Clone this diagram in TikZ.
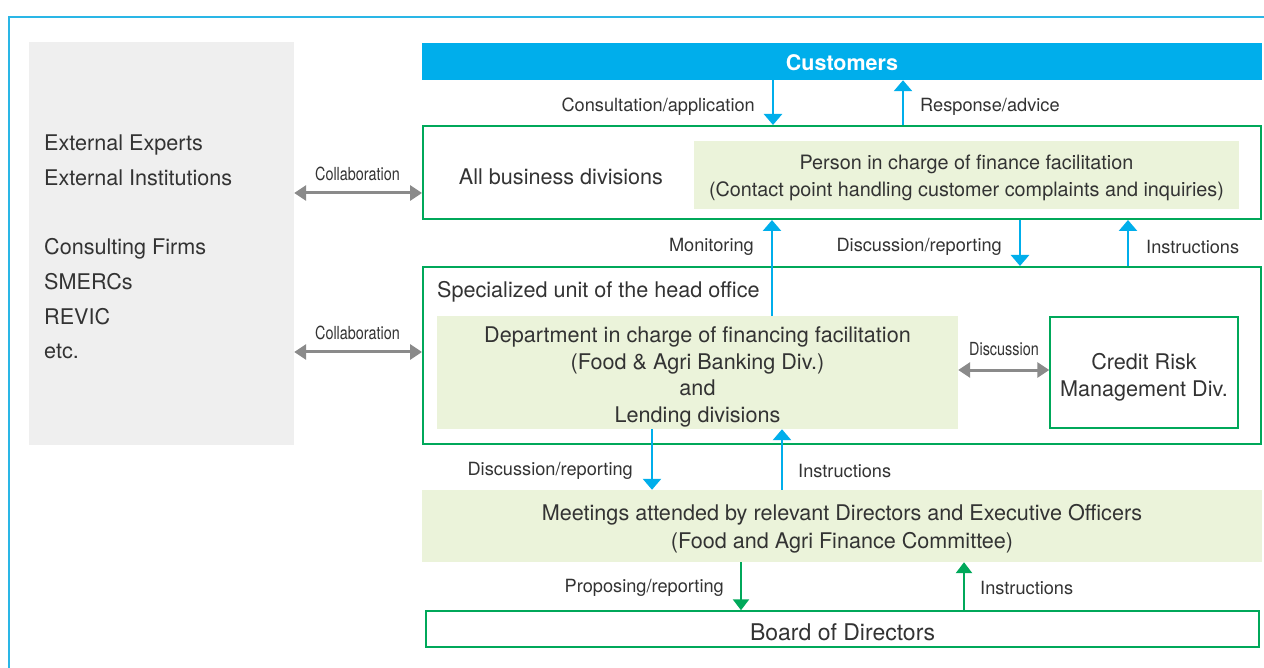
\documentclass[tikz,border=0pt]{standalone}
\usepackage{fontspec}
\setmainfont{TeX Gyre Heros}
\newfontfamily\narrowf[FakeStretch=0.8]{TeX Gyre Heros}
\usetikzlibrary{arrows.meta}
\definecolor{cyanc}{HTML}{00AEEB}
\definecolor{framec}{HTML}{2AB6E6}
\definecolor{grnc}{HTML}{00A85A}
\definecolor{lgrn}{HTML}{EBF3DA}
\definecolor{grayb}{HTML}{EFEFEF}
\definecolor{garr}{HTML}{8A8A8A}
\definecolor{txtc}{HTML}{333333}
\tikzset{
  txt/.style={text=txtc, font=\fontsize{21.6}{26.7}\selectfont, inner sep=0pt, align=center},
  lbl/.style={text=txtc, font=\fontsize{18.2}{20}\selectfont, inner sep=0pt},
  nlbl/.style={text=txtc, font=\narrowf\fontsize{18}{20}\selectfont, inner sep=0pt},
  gbox/.style={draw=grnc, line width=2pt, fill=white, inner sep=0pt},
  fbox/.style={fill=lgrn, draw=none, inner sep=0pt},
  carrow/.style={draw=cyanc, line width=2.6pt, -{Triangle[width=18pt,length=11pt]}},
  grarrow/.style={draw=grnc, line width=2.6pt, -{Triangle[width=16pt,length=11pt]}},
  garrow/.style={draw=garr, line width=3pt, {Triangle[width=15pt,length=12pt]}-{Triangle[width=15pt,length=12pt]}},
}
\begin{document}
\begin{tikzpicture}[x=1pt,y=-1pt]
\useasboundingbox (0,0) rectangle (1264,668);
% frame
\draw[framec, line width=2pt] (9,670) |- (1266,17);
% gray box
\node[fill=grayb, minimum width=265pt, minimum height=403pt, inner sep=0pt] (ext) at (161.5,243.5) {};
\node[txt, align=left, anchor=west, font=\fontsize{21.6}{34.7}\selectfont] (exttxt) at (44,247)
  {External Experts\\External Institutions\\[34.7pt]Consulting Firms\\SMERCs\\REVIC\\etc.};
% customers
\node[fill=cyanc, minimum width=840pt, minimum height=37pt, inner sep=0pt] (cust) at (842,61.5) {};
\node[text=white, font=\bfseries\fontsize{21.5}{24}\selectfont, inner sep=0pt] (custtxt) at (842,63) {Customers};
% all business divisions
\node[gbox, minimum width=838pt, minimum height=93pt] (allbiz) at (842,172.5) {};
\node[txt] (allbiztxt) at (561,177) {All business divisions};
\node[fbox, minimum width=545pt, minimum height=68pt] (person) at (966.5,175) {};
\node[txt, font=\fontsize{19.8}{27}\selectfont] (persontxt) at (966.5,178) {Person in charge of finance facilitation\\(Contact point handling customer complaints and inquiries)};
% specialized unit
\node[gbox, minimum width=838pt, minimum height=177pt] (spec) at (842,355.5) {};
\node[txt, anchor=west] (spectxt) at (437,292) {Specialized unit of the head office};
\node[fbox, minimum width=521pt, minimum height=113pt] (dept) at (697.5,372.5) {};
\node[txt] (depttxt) at (697.5,377) {Department in charge of financing facilitation\\(Food \& Agri Banking Div.)\\and\\Lending divisions};
\node[gbox, line width=1.5pt, minimum width=188pt, minimum height=111pt] (credit) at (1144,372.5) {};
\node[txt] (credittxt) at (1144,377) {Credit Risk\\Management Div.};
% meetings
\node[fbox, minimum width=840pt, minimum height=72pt] (meet) at (842,526) {};
\node[txt, font=\fontsize{21.6}{28}\selectfont] (meettxt) at (842,528.5) {Meetings attended by relevant Directors and Executive Officers\\(Food and Agri Finance Committee)};
% board
\node[gbox, line width=1.5pt, minimum width=833pt, minimum height=36pt] (board) at (842.5,629) {};
\node[txt, font=\fontsize{23}{26}\selectfont] (boardtxt) at (842.5,632) {Board of Directors};
% arrows customers
\draw[carrow] (cust.south -| 773,0) -- (allbiz.north -| 773,0);
\draw[carrow] (allbiz.north -| 903,0) -- (cust.south -| 903,0);
\node[lbl, anchor=east] (l1) at (755,106.5) {Consultation/application};
\node[lbl, anchor=west] (l2) at (920,106.5) {Response/advice};
% arrows middle
\draw[carrow] (dept.north -| 772,0) -- (allbiz.south -| 772,0);
\draw[carrow] (allbiz.south -| 1020,0) -- (spec.north -| 1020,0);
\draw[carrow] (spec.north -| 1128,0) -- (allbiz.south -| 1128,0);
\node[lbl, anchor=east] (l3) at (754,247) {Monitoring};
\node[lbl, anchor=east] (l4) at (1002,247) {Discussion/reporting};
\node[lbl, anchor=west] (l5) at (1146,247) {Instructions};
% arrows bottom
\draw[carrow] (dept.south -| 652,0) -- (meet.north -| 652,0);
\draw[carrow] (meet.north -| 782,0) -- (dept.south -| 782,0);
\node[lbl, anchor=east] (l6) at (633,471) {Discussion/reporting};
\node[lbl, anchor=west] (l7) at (798,471) {Instructions};
\draw[grarrow] (meet.south -| 741,0) -- (board.north -| 741,0);
\draw[grarrow] (board.north -| 964,0) -- (meet.south -| 964,0);
\node[lbl, anchor=east] (l8) at (724,588) {Proposing/reporting};
\node[lbl, anchor=west] (l9) at (980,588) {Instructions};
% gray double arrows
\draw[garrow] (ext.east |- 0,193) -- (allbiz.west |- 0,193);
\draw[garrow] (ext.east |- 0,352) -- (spec.west |- 0,352);
\draw[garrow] (dept.east |- 0,370) -- (credit.west |- 0,370);
\node[nlbl] (c1) at (357.5,174) {Collaboration};
\node[nlbl] (c2) at (357.5,333) {Collaboration};
\node[nlbl] (c3) at (1004,349) {Discussion};
\end{tikzpicture}
\end{document}
